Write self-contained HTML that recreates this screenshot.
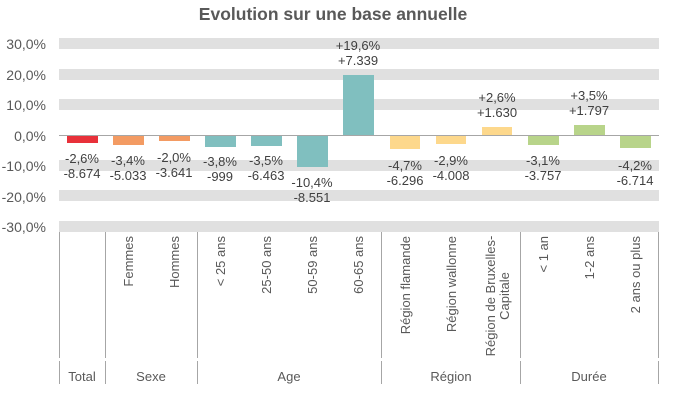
<!DOCTYPE html>
<html><head><meta charset="utf-8"><style>
html,body{margin:0;padding:0;background:#fff;}
svg{display:block;font-family:"Liberation Sans",Arial,sans-serif;}
</style></head><body>
<svg width="676" height="401" viewBox="0 0 676 401" xmlns="http://www.w3.org/2000/svg">
<text x="333" y="20" text-anchor="middle" font-size="17.5" font-weight="bold" fill="#595959">Evolution sur une base annuelle</text>
<g fill="#e0e0e0">
<rect x="59" y="38" width="600" height="11"/>
<rect x="59" y="69" width="600" height="11"/>
<rect x="59" y="99" width="600" height="11"/>
<rect x="59" y="160" width="600" height="11"/>
<rect x="59" y="190" width="600" height="11"/>
<rect x="59" y="221" width="600" height="11"/>
</g>
<g font-size="14" fill="#595959" text-anchor="end">
<text x="46" y="49">30,0%</text>
<text x="46" y="80">20,0%</text>
<text x="46" y="110">10,0%</text>
<text x="46" y="141">0,0%</text>
<text x="46" y="171">-10,0%</text>
<text x="46" y="202">-20,0%</text>
<text x="46" y="232">-30,0%</text>
</g>
<g>
<rect x="67" y="135" width="31" height="8" fill="#e8313a"/>
<rect x="113" y="135" width="31" height="10" fill="#f39b63"/>
<rect x="159" y="135" width="31" height="6" fill="#f39b63"/>
<rect x="205" y="135" width="31" height="12" fill="#80bfbf"/>
<rect x="251" y="135" width="31" height="11" fill="#80bfbf"/>
<rect x="297" y="135" width="31" height="32" fill="#80bfbf"/>
<rect x="343" y="75" width="31" height="60" fill="#80bfbf"/>
<rect x="390" y="135" width="30" height="14" fill="#fdd88c"/>
<rect x="436" y="135" width="30" height="9" fill="#fdd88c"/>
<rect x="482" y="127" width="30" height="8" fill="#fdd88c"/>
<rect x="528" y="135" width="31" height="10" fill="#b8d48a"/>
<rect x="574" y="125" width="31" height="10" fill="#b8d48a"/>
<rect x="620" y="135" width="31" height="13" fill="#b8d48a"/>
</g>
<line x1="59" y1="135.5" x2="659" y2="135.5" stroke="#a6a6a6" stroke-width="1"/>
<g font-size="13" fill="#404040" text-anchor="middle">
<text x="82" y="163">-2,6%</text><text x="82" y="178">-8.674</text>
<text x="128" y="165">-3,4%</text><text x="128" y="180">-5.033</text>
<text x="174" y="162">-2,0%</text><text x="174" y="177">-3.641</text>
<text x="220" y="166">-3,8%</text><text x="220" y="181">-999</text>
<text x="266" y="165">-3,5%</text><text x="266" y="180">-6.463</text>
<text x="312" y="187">-10,4%</text><text x="312" y="202">-8.551</text>
<text x="358" y="50">+19,6%</text><text x="358" y="65">+7.339</text>
<text x="405" y="170">-4,7%</text><text x="405" y="185">-6.296</text>
<text x="451" y="165">-2,9%</text><text x="451" y="180">-4.008</text>
<text x="497" y="102">+2,6%</text><text x="497" y="117">+1.630</text>
<text x="543" y="165">-3,1%</text><text x="543" y="180">-3.757</text>
<text x="589" y="100">+3,5%</text><text x="589" y="115">+1.797</text>
<text x="635" y="170">-4,2%</text><text x="635" y="185">-6.714</text>
</g>
<g stroke="#a6a6a6" stroke-width="1">
<line x1="59.5" y1="232" x2="59.5" y2="358"/><line x1="59.5" y1="361" x2="59.5" y2="384"/>
<line x1="105.5" y1="232" x2="105.5" y2="358"/><line x1="105.5" y1="361" x2="105.5" y2="384"/>
<line x1="197.5" y1="232" x2="197.5" y2="358"/><line x1="197.5" y1="361" x2="197.5" y2="384"/>
<line x1="381.5" y1="232" x2="381.5" y2="358"/><line x1="381.5" y1="361" x2="381.5" y2="384"/>
<line x1="520.5" y1="232" x2="520.5" y2="358"/><line x1="520.5" y1="361" x2="520.5" y2="384"/>
<line x1="658.5" y1="232" x2="658.5" y2="358"/><line x1="658.5" y1="361" x2="658.5" y2="384"/>
</g>
<g font-size="13" fill="#595959" text-anchor="end">
<text transform="translate(133,236) rotate(-90)">Femmes</text>
<text transform="translate(179,236) rotate(-90)">Hommes</text>
<text transform="translate(225,236) rotate(-90)">&lt; 25 ans</text>
<text transform="translate(271,236) rotate(-90)">25-50 ans</text>
<text transform="translate(317,236) rotate(-90)">50-59 ans</text>
<text transform="translate(363,236) rotate(-90)">60-65 ans</text>
<text transform="translate(410,236) rotate(-90)">Région flamande</text>
<text transform="translate(456,236) rotate(-90)">Région wallonne</text>
<text transform="translate(548,236) rotate(-90)">&lt; 1 an</text>
<text transform="translate(594,236) rotate(-90)">1-2 ans</text>
<text transform="translate(640,236) rotate(-90)">2 ans ou plus</text>
</g>
<g font-size="13" fill="#595959" text-anchor="middle">
<text transform="translate(495,296) rotate(-90)">Région de Bruxelles-</text>
<text transform="translate(509,296) rotate(-90)">Capitale</text>
</g>
<g font-size="13" fill="#595959" text-anchor="middle">
<text x="82" y="381">Total</text>
<text x="151" y="381">Sexe</text>
<text x="289" y="381">Age</text>
<text x="451" y="381">Région</text>
<text x="589" y="381">Durée</text>
</g>
</svg>
</body></html>
